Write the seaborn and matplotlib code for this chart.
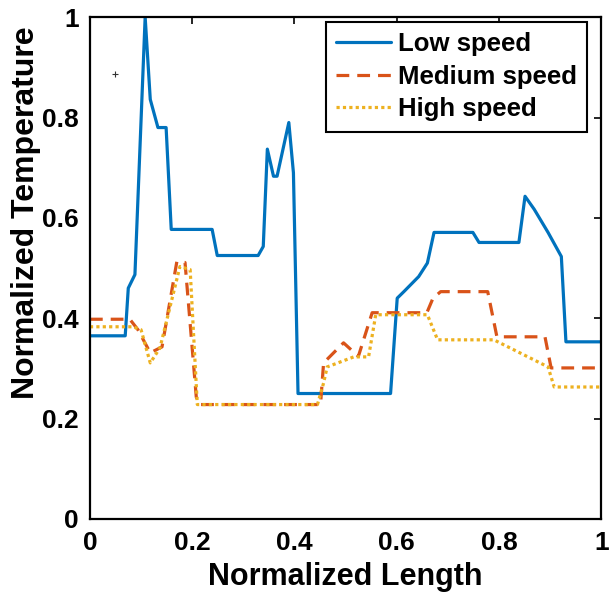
import numpy as np
import pandas as pd
import seaborn as sns
import matplotlib
matplotlib.use("Agg")
import matplotlib.pyplot as plt

# Temperature profiles along the normalized length
low_x = [0.0, 0.069, 0.075, 0.088, 0.108, 0.118, 0.133, 0.149, 0.159, 0.239, 0.249,
         0.329, 0.339, 0.347, 0.359, 0.366, 0.389, 0.398, 0.407, 0.588, 0.601, 0.614,
         0.643, 0.660, 0.673, 0.749, 0.761, 0.839, 0.851, 0.869, 0.896, 0.922, 0.931, 1.0]
low_y = [0.365, 0.365, 0.46, 0.487, 1.0, 0.836, 0.78, 0.78, 0.577, 0.577, 0.525,
         0.525, 0.543, 0.737, 0.683, 0.683, 0.79, 0.69, 0.25, 0.25, 0.44, 0.453,
         0.483, 0.51, 0.571, 0.571, 0.551, 0.551, 0.643, 0.617, 0.571, 0.523, 0.353, 0.353]

med_x = [0.0, 0.078, 0.094, 0.118, 0.141, 0.170, 0.186, 0.208, 0.214, 0.451, 0.457,
         0.496, 0.525, 0.552, 0.659, 0.671, 0.686, 0.778, 0.796, 0.890, 0.902, 1.0]
med_y = [0.398, 0.398, 0.377, 0.331, 0.343, 0.513, 0.511, 0.243, 0.228, 0.228, 0.311,
         0.351, 0.324, 0.411, 0.411, 0.44, 0.453, 0.453, 0.363, 0.363, 0.301, 0.301]

high_x = [0.0, 0.084, 0.100, 0.118, 0.137, 0.176, 0.196, 0.210, 0.445, 0.457, 0.464,
          0.516, 0.545, 0.559, 0.660, 0.680, 0.790, 0.896, 0.908, 1.0]
high_y = [0.383, 0.383, 0.377, 0.311, 0.341, 0.503, 0.497, 0.228, 0.228, 0.271, 0.303,
          0.323, 0.323, 0.407, 0.407, 0.357, 0.357, 0.303, 0.263, 0.263]

series_names = ["Low speed", "Medium speed", "High speed"]
ticks = [0, 0.2, 0.4, 0.6, 0.8, 1]
tick_labels = ["0", "0.2", "0.4", "0.6", "0.8", "1"]

sns.set_style("white")
plt.rcParams["font.family"] = ["Liberation Sans", "DejaVu Sans"]
plt.rcParams["font.weight"] = "bold"
plt.rcParams["text.color"] = "black"
plt.rcParams["axes.labelcolor"] = "black"
plt.rcParams["xtick.color"] = "black"
plt.rcParams["ytick.color"] = "black"

fig = plt.figure(figsize=(6.16, 6.12), dpi=100)
ax = fig.add_axes([0.146, 0.152, 0.830, 0.820])

colors = ["#0072BD", "#D95319", "#EDB120"]
styles = [dict(linestyle="-"), dict(dashes=(4, 2.5)), dict(dashes=(1, 1))]

for name, xs, ys, c, st in zip(series_names, [low_x, med_x, high_x],
                               [low_y, med_y, high_y], colors, styles):
    df = pd.DataFrame({"x": xs, "y": ys})
    sns.lineplot(data=df, x="x", y="y", ax=ax, color=c, lw=2.3, sort=False,
                 estimator=None, label=name, **st)

# small stray cross mark
ax.plot([0.049], [0.886], marker="+", color="#333333", ms=4, mew=0.8)

ax.set_xlim(0, 1)
ax.set_ylim(0, 1.0)
ax.set_xticks(ticks)
ax.set_xticklabels(tick_labels)
ax.set_yticks(ticks)
ax.set_yticklabels(tick_labels)
ax.tick_params(direction="in", length=5, width=1.2, top=True, right=True,
               labelsize=19)
ax.tick_params(axis="x", pad=9)
ax.tick_params(axis="y", pad=8)
for lbl in ax.get_xticklabels() + ax.get_yticklabels():
    lbl.set_fontweight("bold")
for sp in ax.spines.values():
    sp.set_visible(True)
    sp.set_color("black")
    sp.set_linewidth(1.6)

ax.set_xlabel("Normalized Length", fontsize=22, fontweight="bold", labelpad=5)
ax.set_ylabel("Normalized Temperature", fontsize=23, fontweight="bold")
ax.yaxis.set_label_coords(-0.095, 0.611)

leg = ax.legend(loc="upper right", bbox_to_anchor=(587 / 616, 1 - 22 / 612),
                bbox_transform=fig.transFigure, borderaxespad=0,
                fontsize=18.5, frameon=True, fancybox=False,
                edgecolor="black", framealpha=1, handlelength=2.15,
                labelspacing=0.33, handletextpad=0.25, borderpad=0.4)
leg.get_frame().set_linewidth(1.5)
for t in leg.get_texts():
    t.set_fontweight("bold")

fig.savefig("out.png", dpi=100)
